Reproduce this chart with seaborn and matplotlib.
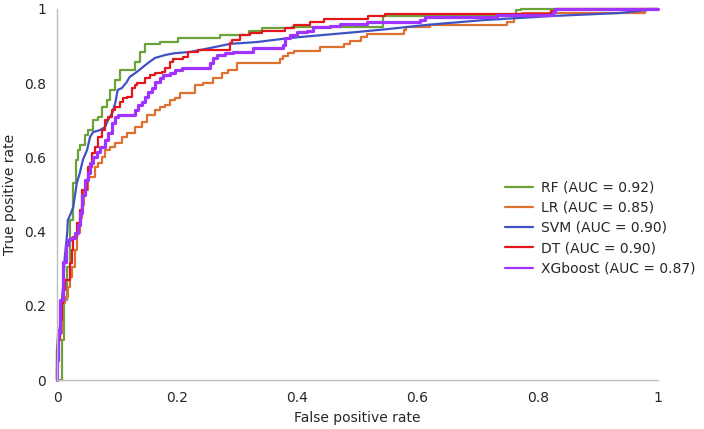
import matplotlib
matplotlib.use("Agg")
import matplotlib.pyplot as plt
import seaborn as sns
import pandas as pd

# ---- data ----
rf_fpr = [0.000, 0.008, 0.012, 0.017, 0.022, 0.027, 0.032, 0.035, 0.038, 0.047, 0.052, 0.060, 0.068,
          0.075, 0.083, 0.088, 0.097, 0.105, 0.116, 0.130, 0.138, 0.146, 0.171, 0.201, 0.230, 0.271,
          0.319, 0.341, 0.391, 0.542, 0.549, 0.764, 0.772, 1.000]
rf_tpr = [0.000, 0.000, 0.108, 0.216, 0.305, 0.431, 0.531, 0.593, 0.620, 0.633, 0.660, 0.674, 0.701,
          0.709, 0.736, 0.755, 0.782, 0.809, 0.836, 0.836, 0.857, 0.884, 0.906, 0.911, 0.922, 0.922,
          0.930, 0.941, 0.949, 0.951, 0.981, 0.981, 0.997, 1.000]

lr_fpr = [0.000, 0.002, 0.008, 0.013, 0.018, 0.022, 0.025, 0.030, 0.033, 0.038, 0.042, 0.045, 0.052,
          0.063, 0.068, 0.075, 0.080, 0.088, 0.097, 0.108, 0.116, 0.130, 0.141, 0.150, 0.163, 0.171,
          0.180, 0.188, 0.196, 0.205, 0.230, 0.243, 0.260, 0.275, 0.285, 0.300, 0.308, 0.371, 0.376,
          0.384, 0.394, 0.438, 0.478, 0.488, 0.506, 0.516, 0.521, 0.577, 0.581, 0.621, 0.622, 0.749,
          0.760, 0.774, 0.978, 1.000]
lr_tpr = [0.000, 0.081, 0.127, 0.208, 0.224, 0.251, 0.278, 0.305, 0.350, 0.396, 0.437, 0.472, 0.512,
          0.547, 0.574, 0.585, 0.601, 0.620, 0.628, 0.639, 0.655, 0.666, 0.682, 0.695, 0.714, 0.728,
          0.736, 0.741, 0.755, 0.760, 0.774, 0.795, 0.801, 0.814, 0.827, 0.836, 0.854, 0.854, 0.865,
          0.873, 0.881, 0.887, 0.898, 0.906, 0.914, 0.925, 0.933, 0.933, 0.943, 0.951, 0.957, 0.957,
          0.965, 0.987, 0.989, 1.000]

svm_fpr = [0.000, 0.000, 0.002, 0.005, 0.007, 0.010, 0.013, 0.017, 0.018, 0.022, 0.027, 0.033, 0.038,
           0.043, 0.050, 0.055, 0.060, 0.072, 0.080, 0.085, 0.092, 0.097, 0.101, 0.108, 0.116, 0.121,
           0.130, 0.141, 0.151, 0.163, 0.180, 0.196, 0.221, 0.255, 0.288, 0.333, 0.388, 0.443, 0.499,
           0.551, 0.614, 0.709, 0.822, 0.935, 1.000]
svm_tpr = [0.000, 0.081, 0.121, 0.143, 0.189, 0.251, 0.332, 0.396, 0.431, 0.445, 0.466, 0.531, 0.558,
           0.593, 0.620, 0.655, 0.668, 0.674, 0.682, 0.701, 0.720, 0.747, 0.782, 0.787, 0.803, 0.817,
           0.827, 0.841, 0.854, 0.868, 0.876, 0.881, 0.884, 0.895, 0.906, 0.911, 0.922, 0.930, 0.938,
           0.946, 0.957, 0.970, 0.981, 0.989, 1.000]

dt_fpr = [0.000, 0.002, 0.005, 0.008, 0.010, 0.013, 0.022, 0.025, 0.027, 0.033, 0.038, 0.042, 0.050,
          0.052, 0.058, 0.063, 0.068, 0.075, 0.080, 0.085, 0.092, 0.097, 0.105, 0.110, 0.116, 0.125,
          0.130, 0.133, 0.146, 0.155, 0.163, 0.175, 0.180, 0.188, 0.193, 0.210, 0.218, 0.235, 0.250,
          0.288, 0.291, 0.304, 0.321, 0.341, 0.379, 0.394, 0.421, 0.444, 0.517, 0.546, 0.822, 0.829,
          1.000]
dt_tpr = [0.000, 0.035, 0.108, 0.162, 0.208, 0.243, 0.270, 0.315, 0.350, 0.385, 0.423, 0.458, 0.512,
          0.539, 0.574, 0.612, 0.628, 0.655, 0.674, 0.701, 0.709, 0.728, 0.736, 0.749, 0.760, 0.763,
          0.787, 0.795, 0.801, 0.814, 0.822, 0.827, 0.830, 0.841, 0.857, 0.865, 0.871, 0.884, 0.889,
          0.889, 0.908, 0.916, 0.930, 0.935, 0.941, 0.949, 0.957, 0.965, 0.973, 0.981, 0.987, 0.995,
          1.000]

xgb_fpr = [0.000, 0.002, 0.005, 0.010, 0.015, 0.018, 0.022, 0.030, 0.035, 0.038, 0.042, 0.047, 0.052,
           0.055, 0.060, 0.067, 0.072, 0.080, 0.085, 0.092, 0.097, 0.101, 0.105, 0.130, 0.135, 0.141,
           0.146, 0.151, 0.158, 0.163, 0.171, 0.176, 0.188, 0.196, 0.208, 0.216, 0.255, 0.260, 0.266,
           0.280, 0.293, 0.326, 0.329, 0.376, 0.379, 0.388, 0.399, 0.416, 0.426, 0.454, 0.471, 0.516,
           0.604, 0.612, 0.732, 0.825, 0.829, 1.000]
xgb_tpr = [0.000, 0.054, 0.127, 0.216, 0.318, 0.364, 0.377, 0.383, 0.396, 0.418, 0.450, 0.499, 0.539,
           0.558, 0.585, 0.601, 0.615, 0.628, 0.647, 0.666, 0.693, 0.709, 0.714, 0.714, 0.728, 0.741,
           0.749, 0.763, 0.776, 0.787, 0.803, 0.814, 0.822, 0.827, 0.836, 0.841, 0.841, 0.854, 0.868,
           0.876, 0.881, 0.884, 0.895, 0.895, 0.903, 0.922, 0.930, 0.938, 0.941, 0.951, 0.954, 0.960,
           0.965, 0.970, 0.978, 0.984, 0.992, 1.000]

labels = ["RF (AUC = 0.92)", "LR (AUC = 0.85)", "SVM (AUC = 0.90)", "DT (AUC = 0.90)",
          "XGboost (AUC = 0.87)"]
colors = ["#6BA33A", "#DE7030", "#3F52C4", "#E4161C", "#A033FF"]
tick_vals = [0, 0.2, 0.4, 0.6, 0.8, 1]
tick_text = ["0", "0.2", "0.4", "0.6", "0.8", "1"]

series = [(rf_fpr, rf_tpr), (lr_fpr, lr_tpr), (svm_fpr, svm_tpr), (dt_fpr, dt_tpr), (xgb_fpr, xgb_tpr)]
frames = []
for lab, (fx, fy) in zip(labels, series):
    frames.append(pd.DataFrame({"fpr": fx, "tpr": fy, "model": lab}))
df = pd.concat(frames, ignore_index=True)

sns.set_theme(style="white")
plt.rcParams["font.family"] = ["DejaVu Sans"]

fig = plt.figure(figsize=(7.04, 4.29), dpi=100)
ax = fig.add_axes([57 / 704, 1 - 380 / 429, 601 / 704, 371 / 429])

for lab, col in zip(labels, colors):
    sub = df[df["model"] == lab]
    kw = {}
    if not lab.startswith("SVM"):
        kw["drawstyle"] = "steps-pre"
    lw = 2.3 if lab.startswith("XG") else 1.6
    sns.lineplot(data=sub, x="fpr", y="tpr", ax=ax, color=col, label=lab,
                 sort=False, estimator=None, linewidth=lw, clip_on=False, **kw)

ax.set_xlim(0, 1)
ax.set_ylim(0, 1)
ax.set_xticks(tick_vals)
ax.set_xticklabels(tick_text)
ax.set_yticks(tick_vals)
ax.set_yticklabels(tick_text)
ax.tick_params(axis="both", length=0, labelsize=10, colors="#262626")
ax.tick_params(axis="x", pad=8)
ax.tick_params(axis="y", pad=8)

for s in ["top", "right"]:
    ax.spines[s].set_visible(False)
for s in ["left", "bottom"]:
    ax.spines[s].set_color("#BFBFBF")
    ax.spines[s].set_linewidth(1.0)

ax.set_xlabel("False positive rate", fontsize=10, color="#262626", labelpad=4)
ax.set_ylabel("True positive rate", fontsize=10, color="#262626", labelpad=5)
ax.grid(False)

leg = ax.legend(loc="center left", bbox_to_anchor=(0.745, 0.41), frameon=False,
                fontsize=10, handlelength=2.0, handletextpad=0.6, labelspacing=0.45,
                borderpad=0, borderaxespad=0)
for t in leg.get_texts():
    t.set_color("#262626")
for h in leg.get_lines():
    h.set_linewidth(1.6)

fig.savefig("out.png", dpi=100)
